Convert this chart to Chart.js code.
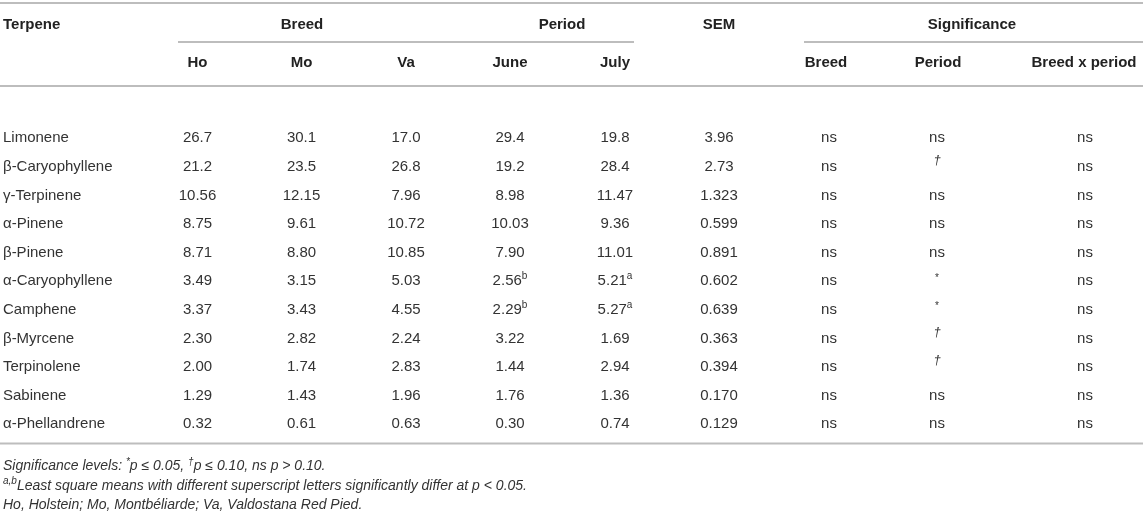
<!DOCTYPE html>
<html>
<head>
<meta charset="utf-8">
<script src="https://cdn.jsdelivr.net/npm/chart.js@4.4.1/dist/chart.umd.min.js"></script>
<style>
  html, body { margin: 0; padding: 0; background: #ffffff; }
  #wrap { position: relative; width: 1143px; height: 516px; }
</style>
</head>
<body>
<div id="wrap"><canvas id="c"></canvas></div>
<script>
// ---------------- DATA ----------------
const terpenes = ['Limonene', 'β-Caryophyllene', 'γ-Terpinene', 'α-Pinene', 'β-Pinene',
  'α-Caryophyllene', 'Camphene', 'β-Myrcene', 'Terpinolene', 'Sabinene', 'α-Phellandrene'];
const ho   = [26.7, 21.2, 10.56, 8.75, 8.71, 3.49, 3.37, 2.30, 2.00, 1.29, 0.32];
const mo   = [30.1, 23.5, 12.15, 9.61, 8.80, 3.15, 3.43, 2.82, 1.74, 1.43, 0.61];
const va   = [17.0, 26.8, 7.96, 10.72, 10.85, 5.03, 4.55, 2.24, 2.83, 1.96, 0.63];
const june = [29.4, 19.2, 8.98, 10.03, 7.90, 2.56, 2.29, 3.22, 1.44, 1.76, 0.30];
const july = [19.8, 28.4, 11.47, 9.36, 11.01, 5.21, 5.27, 1.69, 2.94, 1.36, 0.74];
const juneSup = ['', '', '', '', '', 'b', 'b', '', '', '', ''];
const julySup = ['', '', '', '', '', 'a', 'a', '', '', '', ''];
const sem  = [3.96, 2.73, 1.323, 0.599, 0.891, 0.602, 0.639, 0.363, 0.394, 0.170, 0.129];
const meanDecimals = [1, 1, 2, 2, 2, 2, 2, 2, 2, 2, 2];
const semDecimals  = [2, 2, 3, 3, 3, 3, 3, 3, 3, 3, 3];
const sigBreed  = ['ns', 'ns', 'ns', 'ns', 'ns', 'ns', 'ns', 'ns', 'ns', 'ns', 'ns'];
const sigPeriod = ['ns', '†', 'ns', 'ns', 'ns', '*', '*', '†', '†', 'ns', 'ns'];
const sigBxP    = ['ns', 'ns', 'ns', 'ns', 'ns', 'ns', 'ns', 'ns', 'ns', 'ns', 'ns'];

const groupHeaders = ['Terpene', 'Breed', 'Period', 'SEM', 'Significance'];
const subHeaders   = ['Ho', 'Mo', 'Va', 'June', 'July', 'Breed', 'Period', 'Breed x period'];
const footnotes = [
  [{t: 'Significance levels: '}, {t: '*', sup: true}, {t: 'p ≤ 0.05, '}, {t: '†', sup: true}, {t: 'p ≤ 0.10, ns p > 0.10.'}],
  [{t: 'a,b', sup: true}, {t: 'Least square means with different superscript letters significantly differ at p < 0.05.'}],
  [{t: 'Ho, Holstein; Mo, Montbéliarde; Va, Valdostana Red Pied.'}]
];

// ---------------- LAYOUT / STYLE ----------------
const FONT = '"Liberation Sans", Arial, Helvetica, sans-serif';
const TEXT = '#333333';
const HEAD = '#222222';
const RULE = '#bdbdbd';
const COLX = { name: 3, ho: 197.5, mo: 301.5, va: 406, june: 510, july: 615, sem: 719,
  sBreed: 829, sPeriod: 937, sBxP: 1085 };
const GROUPX = [3, 302, 562, 719, 972];
const SUBX = [197.5, 301.5, 406, 510, 615, 826, 938, 1084];
const HEAD_Y1 = 23.5, HEAD_Y2 = 62;
const RULES = [
  { y: 3, x0: 0, x1: 1143 },
  { y: 42, x0: 178, x1: 634 },
  { y: 42, x0: 804, x1: 1143 },
  { y: 86, x0: 0, x1: 1143 },
  { y: 443.5, x0: 0, x1: 1143 }
];
const FOOT_Y = [465.5, 485, 504];

function pts(col, values, fmt, sups) {
  return values.map((v, i) => ({ x: col, y: terpenes[i], label: fmt(v, i), sup: sups ? sups[i] : '' }));
}
const fmtMean = (v, i) => v.toFixed(meanDecimals[i]);
const fmtSem = (v, i) => v.toFixed(semDecimals[i]);
const fmtStr = (v) => v;

function ds(data, align, kind) {
  return { data, cellAlign: align, cellKind: kind, pointRadius: 0, pointHoverRadius: 0, showLine: false };
}

// draw a run of text parts (some superscript) at (x, centerY)
function drawRich(ctx, x, cy, parts, align, size, weight, style, color) {
  const supSize = Math.round(size * 0.68);
  const mk = (p) => `${p.italic || style === 'italic' ? 'italic ' : ''}${weight} ${p.sup ? supSize : size}px ${FONT}`;
  let total = 0;
  parts.forEach(p => { ctx.font = mk(p); p._w = ctx.measureText(p.t).width; total += p._w; });
  let sx = x;
  if (align === 'center') sx = x - total / 2;
  else if (align === 'right') sx = x - total;
  const base = cy + size * 0.355;
  ctx.fillStyle = color;
  ctx.textBaseline = 'alphabetic';
  ctx.textAlign = 'left';
  parts.forEach(p => {
    ctx.font = mk(p);
    ctx.fillText(p.t, sx, p.sup ? base - size * 0.42 : base);
    sx += p._w;
  });
}

const tablePlugin = {
  id: 'tableCells',
  afterDatasetsDraw(chart) {
    const ctx = chart.ctx;
    const xs = chart.scales.x;
    ctx.save();
    // rules
    ctx.strokeStyle = RULE;
    ctx.lineWidth = 2;
    RULES.forEach(r => {
      ctx.beginPath();
      ctx.moveTo(xs.getPixelForValue(r.x0), r.y);
      ctx.lineTo(xs.getPixelForValue(r.x1), r.y);
      ctx.stroke();
    });
    // headers
    groupHeaders.forEach((h, i) => {
      drawRich(ctx, xs.getPixelForValue(GROUPX[i]), HEAD_Y1, [{ t: h }], i === 0 ? 'left' : 'center', 15, 'bold', 'normal', HEAD);
    });
    subHeaders.forEach((h, i) => {
      drawRich(ctx, xs.getPixelForValue(SUBX[i]), HEAD_Y2, [{ t: h }], 'center', 15, 'bold', 'normal', HEAD);
    });
    // cells
    chart.data.datasets.forEach((d, di) => {
      const meta = chart.getDatasetMeta(di);
      meta.data.forEach((el, i) => {
        const raw = d.data[i];
        if (d.cellKind === 'sig' && raw.label === '*') {
          drawRich(ctx, el.x, el.y - 3, [{ t: '*' }], 'center', 10, 'normal', 'normal', TEXT);
        } else if (d.cellKind === 'sig' && raw.label === '†') {
          drawRich(ctx, el.x, el.y - 6, [{ t: '†' }], 'center', 13, 'normal', 'italic', TEXT);
        } else {
          const parts = [{ t: raw.label }];
          if (raw.sup) parts.push({ t: raw.sup, sup: true });
          drawRich(ctx, el.x, el.y, parts, d.cellAlign, 15, 'normal', 'normal', TEXT);
        }
      });
    });
    // footnotes
    footnotes.forEach((f, i) => {
      drawRich(ctx, xs.getPixelForValue(3), FOOT_Y[i], f.map(p => Object.assign({}, p)), 'left', 14, 'normal', 'italic', TEXT);
    });
    ctx.restore();
  }
};

new Chart(document.getElementById('c'), {
  type: 'scatter',
  data: {
    datasets: [
      ds(pts(COLX.name, terpenes, fmtStr), 'left', 'name'),
      ds(pts(COLX.ho, ho, fmtMean), 'center', 'num'),
      ds(pts(COLX.mo, mo, fmtMean), 'center', 'num'),
      ds(pts(COLX.va, va, fmtMean), 'center', 'num'),
      ds(pts(COLX.june, june, fmtMean, juneSup), 'center', 'num'),
      ds(pts(COLX.july, july, fmtMean, julySup), 'center', 'num'),
      ds(pts(COLX.sem, sem, fmtSem), 'center', 'num'),
      ds(pts(COLX.sBreed, sigBreed, fmtStr), 'center', 'sig'),
      ds(pts(COLX.sPeriod, sigPeriod, fmtStr), 'center', 'sig'),
      ds(pts(COLX.sBxP, sigBxP, fmtStr), 'center', 'sig')
    ]
  },
  options: {
    responsive: true,
    maintainAspectRatio: false,
    animation: false,
    devicePixelRatio: 1,
    layout: { padding: { top: 137, bottom: 93, left: 0, right: 0 } },
    events: [],
    plugins: { legend: { display: false }, tooltip: { enabled: false } },
    scales: {
      x: { type: 'linear', min: 0, max: 1143, display: false },
      y: { type: 'category', labels: terpenes, offset: false, display: false }
    }
  },
  plugins: [tablePlugin]
});
</script>
</body>
</html>
